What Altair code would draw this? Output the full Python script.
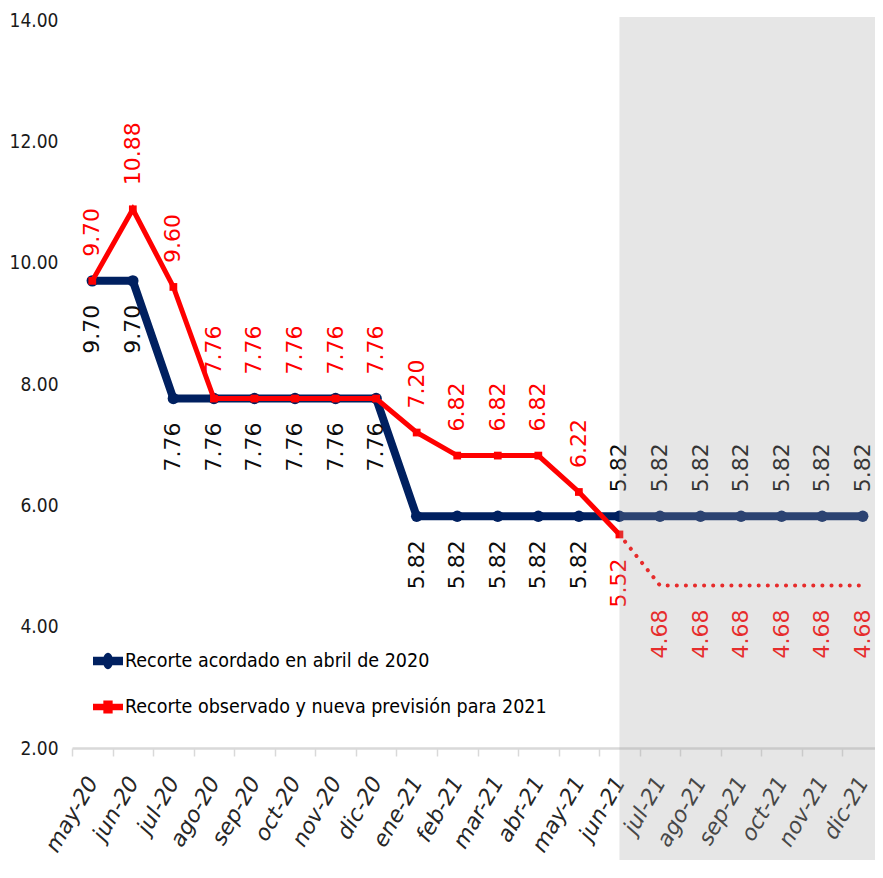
import altair as alt
import pandas as pd

months = ["may-20", "jun-20", "jul-20", "ago-20", "sep-20", "oct-20", "nov-20", "dic-20",
          "ene-21", "feb-21", "mar-21", "abr-21", "may-21", "jun-21", "jul-21", "ago-21",
          "sep-21", "oct-21", "nov-21", "dic-21"]
blue_values = [9.70, 9.70, 7.76, 7.76, 7.76, 7.76, 7.76, 7.76,
               5.82, 5.82, 5.82, 5.82, 5.82, 5.82, 5.82, 5.82, 5.82, 5.82, 5.82, 5.82]
red_values = [9.70, 10.88, 9.60, 7.76, 7.76, 7.76, 7.76, 7.76,
              7.20, 6.82, 6.82, 6.82, 6.22, 5.52, 4.68, 4.68, 4.68, 4.68, 4.68, 4.68]
blue_name = "Recorte acordado en abril de 2020"
red_name = "Recorte observado y nueva previsión para 2021"
y_ticks = [2, 4, 6, 8, 10, 12, 14]
forecast_start = "jun-21"

split = months.index(forecast_start)
rows = []
for i, m in enumerate(months):
    rows.append(dict(month=m, idx=i, value=blue_values[i], series=blue_name, fc=i >= split))
    rows.append(dict(month=m, idx=i, value=red_values[i], series=red_name, fc=i >= split))
df = pd.DataFrame(rows)
df["label"] = df["value"].map(lambda v: f"{v:.2f}")
shade = pd.DataFrame({"month": [forecast_start]})
legend_df = pd.DataFrame({"series": [blue_name, red_name]})

BLUE = "#002060"
RED = "#ff0000"
NARROW = "Liberation Sans Narrow, DejaVu Sans Condensed, sans-serif"

x_enc = alt.X(
    "month:N",
    bandPosition=0.5,
    scale=alt.Scale(type="band", domain=months, paddingInner=0, paddingOuter=0, round=False),
    axis=alt.Axis(
        title=None, labelAngle=300, labelAlign="right", labelBaseline="middle",
        labelFont="DejaVu Sans", labelFontSize=22, labelFontStyle="italic",
        labelColor="#262626", labelPadding=22, tickBand="extent", ticks=True,
        tickSize=8, tickColor="#d9d9d9", tickWidth=1.5, domainColor="#d9d9d9",
        domainWidth=2.5, grid=False, labelOverlap=False, labelFlush=False,
    ),
)
y_enc = alt.Y(
    "value:Q",
    scale=alt.Scale(domain=[2, 14], nice=False, zero=False),
    axis=alt.Axis(
        title=None, values=y_ticks, format=".2f", domain=False, ticks=False,
        grid=False, labelFont=NARROW, labelFontSize=19, labelColor="#1a1a1a",
        labelPadding=14,
    ),
)

blue_path = ("M-1,-0.28L1,-0.28L1,0.28L-1,0.28Z "
             "M-0.34,0A0.34,0.55 0 1,1 0.34,0A0.34,0.55 0 1,1 -0.34,0Z")
red_path = ("M-1,-0.22L1,-0.22L1,0.22L-1,0.22Z "
            "M-0.31,-0.43L0.31,-0.43L0.31,0.43L-0.31,0.43Z")

legend_def = alt.Legend(
    title=None, orient="none", legendX=21, legendY=626, direction="vertical",
    symbolSize=900, labelFont=NARROW, labelFontSize=19.5, symbolStrokeWidth=0,
    labelColor="#000000", labelLimit=700, rowPadding=21, labelOffset=2, padding=0,
)

base = alt.Chart(df)
is_blue = f"datum.series === '{blue_name}'"
is_red = f"datum.series === '{red_name}'"

legend_layer = alt.Chart(legend_df).mark_point(filled=True, opacity=1, size=900).encode(
    x=alt.value(-200), y=alt.value(-200),
    color=alt.Color("series:N", scale=alt.Scale(domain=[blue_name, red_name], range=[BLUE, RED]),
                    legend=legend_def),
    shape=alt.Shape("series:N", scale=alt.Scale(domain=[blue_name, red_name],
                                                range=[blue_path, red_path]),
                    legend=legend_def),
)

blue_line = base.transform_filter(is_blue).mark_line(strokeWidth=8, color=BLUE).encode(
    x=x_enc, y=y_enc)
blue_pts = base.transform_filter(is_blue).mark_circle(size=130, color=BLUE, opacity=1).encode(
    x=x_enc, y=y_enc)
red_line = base.transform_filter(f"{is_red} && datum.idx <= {split}").mark_line(
    strokeWidth=5, color=RED).encode(x=x_enc, y=y_enc)
red_pts = base.transform_filter(f"{is_red} && datum.idx <= {split}").mark_square(
    size=60, color=RED, opacity=1).encode(x=x_enc, y=y_enc)
red_dots = base.transform_filter(f"{is_red} && datum.idx >= {split}").mark_line(
    strokeWidth=4, strokeDash=[0.1, 9], strokeCap="round", color=RED).encode(
    x=x_enc, y=y_enc)

def labels(flt, above, col):
    return base.transform_filter(flt).mark_text(
        angle=270, align="left" if above else "right", baseline="middle",
        dx=24 if above else -24, font="DejaVu Sans", fontSize=22, color=col,
    ).encode(x=x_enc, y=y_enc, text="label:N")

blue_below = labels(f"{is_blue} && !datum.fc", False, "#0d0d0d")
blue_above = labels(f"{is_blue} && datum.fc", True, "#0d0d0d")
red_above = labels(f"{is_red} && !datum.fc", True, RED)
red_below = labels(f"{is_red} && datum.fc", False, RED)

overlay = alt.Chart(shade).mark_rect(color="#a1a1a1", opacity=0.27).encode(
    x=x_enc, x2=alt.value(811), y=alt.value(-3), y2=alt.value(900))

chart = alt.layer(
    legend_layer, blue_line, blue_pts, red_line, red_pts, red_dots,
    blue_below, blue_above, red_above, red_below, overlay,
).properties(
    width=811, height=728,
    autosize=alt.AutoSizeParams(type="none"),
    padding={"left": 64, "top": 12, "right": -8, "bottom": 112},
).configure_view(strokeWidth=0)

chart.save("out.html", embed_options={"renderer": "svg", "actions": False})
